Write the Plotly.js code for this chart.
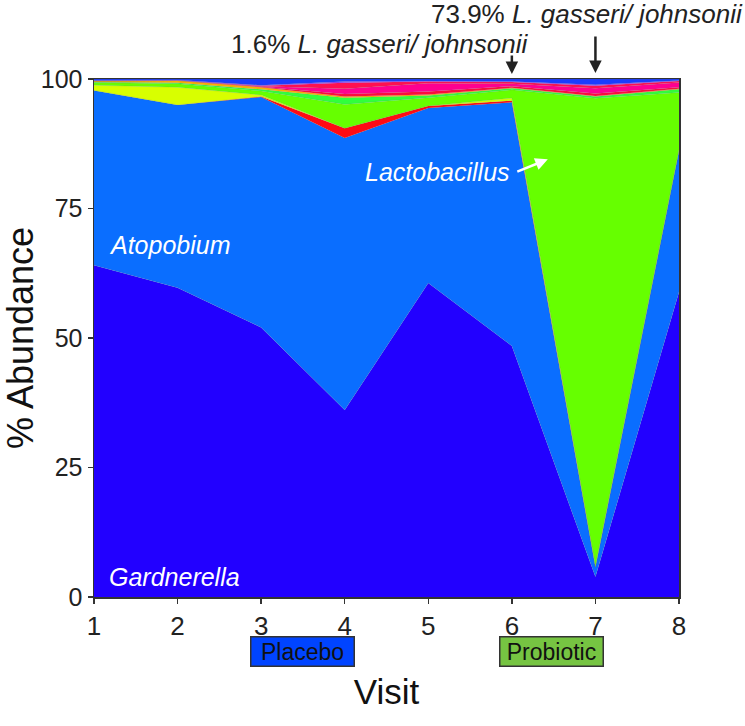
<!DOCTYPE html>
<html>
<head>
<meta charset="utf-8">
<script src="https://cdn.plot.ly/plotly-3.0.1.min.js"></script>
<style>
  html, body { margin: 0; padding: 0; background: #fff; }
  #chart { width: 745px; height: 726px; }
</style>
</head>
<body>
<div id="chart"></div>
<script>
// visits on the x axis
const visits = [1, 2, 3, 4, 5, 6, 7, 8];

// % abundance per taxon, bottom of the stack first
const gardnerella  = [64.1, 59.7, 52.1, 36.1, 60.6, 48.5, 3.9, 59.0];
const atopobium    = [33.8, 35.3, 44.5, 52.5, 33.8, 47.1, 1.9, 27.3];
const taxonRed     = [0.0, 0.0, 0.1, 1.9, 0.4, 0.3, 0.1, 0.1];
const taxonYellow  = [1.0, 3.4, 0.3, 0.0, 0.0, 0.5, 0.1, 0.1];
const lactobacillus = [0.5, 0.7, 0.8, 4.6, 1.6, 1.6, 90.5, 11.1];
const taxonGreen   = [0.1, 0.2, 0.3, 1.3, 0.4, 0.3, 0.3, 0.6];
const taxonOrange  = [0.2, 0.4, 0.4, 0.2, 0.2, 0.1, 0.1, 0.1];
const taxonRed2    = [0.0, 0.0, 0.1, 0.5, 0.6, 0.3, 0.5, 0.3];
const taxonPink    = [0.0, 0.0, 0.1, 1.0, 1.6, 0.5, 1.0, 0.9];
const taxonRed3    = [0.0, 0.0, 0.1, 1.2, 0.3, 0.3, 0.5, 0.3];
const taxonPurple  = [0.1, 0.1, 0.1, 0.2, 0.1, 0.1, 0.2, 0.1];
const taxonOther   = [0.3, 0.2, 1.2, 0.5, 0.4, 0.5, 1.1, 0.3];

const yTicks = [0, 25, 50, 75, 100];

const layers = [
  { name: 'Gardnerella', y: gardnerella, color: '#2200ff' },
  { name: 'Atopobium', y: atopobium, color: '#0a6eff' },
  { name: 'Red taxon', y: taxonRed, color: '#ff0a14' },
  { name: 'Yellow taxon', y: taxonYellow, color: '#d8ff00' },
  { name: 'Lactobacillus', y: lactobacillus, color: '#66ff00' },
  { name: 'Green taxon', y: taxonGreen, color: '#30ff3c' },
  { name: 'Orange taxon', y: taxonOrange, color: '#ffb000' },
  { name: 'Red taxon 2', y: taxonRed2, color: '#ff0a3c' },
  { name: 'Pink taxon', y: taxonPink, color: '#ff0090' },
  { name: 'Red taxon 3', y: taxonRed3, color: '#ff1050' },
  { name: 'Purple taxon', y: taxonPurple, color: '#9a33ff' },
  { name: 'Other', y: taxonOther, color: '#1a3cff' }
];

const data = layers.map(l => ({
  x: visits,
  y: l.y,
  name: l.name,
  type: 'scatter',
  mode: 'lines',
  stackgroup: 'abund',
  groupnorm: 'percent',
  fillcolor: l.color,
  line: { width: 0.5, color: 'rgba(110,110,110,0.35)' },
  hoverinfo: 'skip'
}));

const font = 'Liberation Sans, Arial, sans-serif';

// pixel -> paper helpers (plot box is 94..679 by 79..597)
const px = p => (p - 94) / 585;
const py = p => (597 - p) / 518;

const layout = {
  width: 745,
  height: 726,
  margin: { l: 94, r: 66, t: 79, b: 129 },
  paper_bgcolor: '#fff',
  plot_bgcolor: '#fff',
  showlegend: false,
  font: { family: font, color: '#222' },
  xaxis: {
    range: [1, 8],
    tickvals: visits,
    ticks: 'outside',
    ticklen: 5,
    tickwidth: 1.5,
    tickcolor: '#333',
    showline: true,
    mirror: true,
    linecolor: '#333',
    linewidth: 1.5,
    showgrid: false,
    zeroline: false,
    tickfont: { family: font, size: 26, color: '#222' },
    title: { text: 'Visit', font: { family: font, size: 35, color: '#111' }, standoff: 40 }
  },
  yaxis: {
    range: [0, 100],
    tickvals: yTicks,
    ticks: 'outside',
    ticklen: 5,
    tickwidth: 1.5,
    tickcolor: '#333',
    showline: true,
    mirror: true,
    linecolor: '#333',
    linewidth: 1.5,
    showgrid: false,
    zeroline: false,
    tickfont: { family: font, size: 25, color: '#222' },
    title: { text: '% Abundance', font: { family: font, size: 36, color: '#111' }, standoff: 12 }
  },
  annotations: [
    { x: 1.15, y: 68, xref: 'x', yref: 'y', xanchor: 'left', yanchor: 'middle', text: '<i>Atopobium</i>',
      showarrow: false, font: { family: font, size: 25, color: '#fff' } },
    { x: 1.15, y: 3.8, xref: 'x', yref: 'y', xanchor: 'left', yanchor: 'middle', text: '<i>Gardnerella</i>',
      showarrow: false, font: { family: font, size: 25, color: '#fff' } },
    { x: 6.0, y: 82, xref: 'x', yref: 'y', xanchor: 'right', yanchor: 'middle', text: '<i>Lactobacillus</i>',
      showarrow: false, font: { family: font, size: 25, color: '#fff' } },
    { x: 6.43, y: 84.5, xref: 'x', yref: 'y', ax: -32, ay: 13, text: '',
      showarrow: true, arrowhead: 2, arrowsize: 1, arrowwidth: 2.5, arrowcolor: '#fff' },
    // labels above the plot
    { x: px(531), y: py(44), xref: 'paper', yref: 'paper', xanchor: 'right', yanchor: 'middle',
      text: '1.6% <i>L. gasseri/ johnsonii</i>', showarrow: false,
      font: { family: font, size: 26, color: '#222' } },
    { x: px(745), y: py(14), xref: 'paper', yref: 'paper', xanchor: 'right', yanchor: 'middle',
      text: '73.9% <i>L. gasseri/ johnsonii</i>', showarrow: false,
      font: { family: font, size: 26, color: '#222' } },
    { x: 6, y: py(74), xref: 'x', yref: 'paper', ax: 0, ay: -20, text: '',
      showarrow: true, arrowhead: 2, arrowsize: 1, arrowwidth: 2.5, arrowcolor: '#222' },
    { x: 7, y: py(73), xref: 'x', yref: 'paper', ax: 0, ay: -38, text: '',
      showarrow: true, arrowhead: 2, arrowsize: 1, arrowwidth: 2.5, arrowcolor: '#222' },
    // treatment boxes under the axis
    { x: 3.49, y: py(651), xref: 'x', yref: 'paper', yanchor: 'middle', text: 'Placebo', showarrow: false,
      width: 100, height: 26, bgcolor: '#0044ff', bordercolor: '#333', borderwidth: 1.5,
      font: { family: font, size: 23, color: '#111' } },
    { x: 6.48, y: py(651), xref: 'x', yref: 'paper', yanchor: 'middle', text: 'Probiotic', showarrow: false,
      width: 100, height: 26, bgcolor: '#76c442', bordercolor: '#333', borderwidth: 1.5,
      font: { family: font, size: 23, color: '#111' } }
  ]
};

Plotly.newPlot('chart', data, layout, { displayModeBar: false, staticPlot: true });
</script>
</body>
</html>
